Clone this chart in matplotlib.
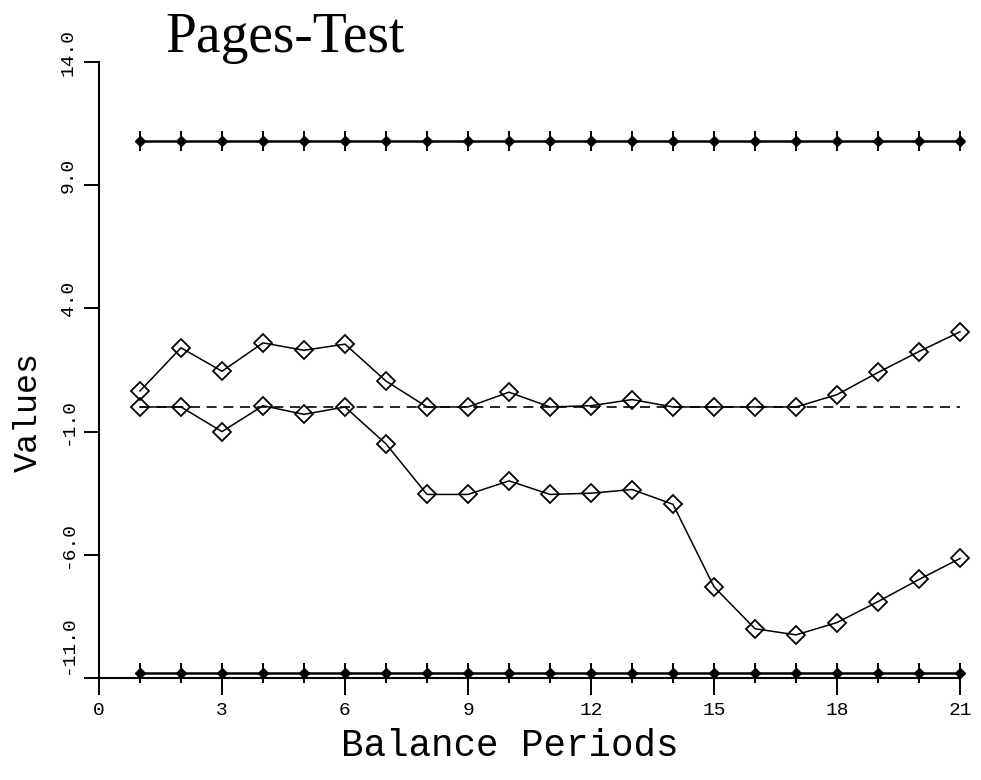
import matplotlib.pyplot as plt
from matplotlib.transforms import ScaledTranslation

# datos
periods = list(range(1, 22))
upper_limit = 10.8
lower_limit = -10.8
center_line = 0.0
series_a = [0.65, 2.4, 1.45, 2.6, 2.3, 2.55, 1.05, 0.0, 0.0, 0.6, 0.0,
            0.05, 0.3, 0.0, 0.0, 0.0, 0.0, 0.5, 1.4, 2.25, 3.05]
series_b = [0.0, 0.0, -1.0, 0.05, -0.3, 0.0, -1.5, -3.55, -3.55, -3.0, -3.55,
            -3.5, -3.35, -3.95, -7.3, -9.0, -9.25, -8.75, -7.9, -7.0, -6.15]
xticks = [0, 3, 6, 9, 12, 15, 18, 21]
yticks = [-11, -6, -1, 4, 9, 14]
ytick_labels = ['-11.0', '-6.0', '-1.0', '4.0', '9.0', '14.0']

mono = 'Liberation Mono'

fig = plt.figure(figsize=(9.81, 7.8), dpi=100)
ax = fig.add_axes([99 / 981, 102 / 780, 861 / 981, 616 / 780])

# lineas de control con marcador relleno y barra vertical
for level in (upper_limit, lower_limit):
    vals = [level] * len(periods)
    ax.plot(periods, vals, color='black', lw=1.8, marker='D', ms=5,
            mfc='black', mec='black', clip_on=False, zorder=3)
    ax.plot(periods, vals, ls='none', marker='|', ms=15, mew=1.4,
            color='black', clip_on=False, zorder=3)

# linea central discontinua
ax.plot(periods, [center_line] * len(periods), color='black', lw=1.2,
        ls=(0, (6, 4)), zorder=2)

# series con rombos abiertos
for s in (series_a, series_b):
    ax.plot(periods, s, color='black', lw=1.1, marker='D', ms=9,
            mfc='none', mec='black', mew=1.3, clip_on=False, zorder=4)

ax.set_xlim(0, 21)
ax.set_ylim(-11, 14)

for side in ('top', 'right'):
    ax.spines[side].set_visible(False)
for side in ('left', 'bottom'):
    ax.spines[side].set_linewidth(1.5)

ax.set_xticks(xticks)
ax.set_xticklabels([str(v) for v in xticks], fontfamily=mono, fontsize=14)
ax.set_yticks(yticks)
ax.set_yticklabels(ytick_labels, fontfamily=mono, fontsize=14,
                   rotation=90, va='center')
ax.tick_params(axis='x', direction='out', length=12, width=1.4, pad=5)
ax.tick_params(axis='y', direction='out', length=11, width=1.4, pad=5)

# etiquetas del eje y un poco por encima de la marca
for lab in ax.get_yticklabels():
    dy = 0.33 if lab.get_text() == '-11.0' else 0.10
    lab.set_transform(lab.get_transform() +
                      ScaledTranslation(0, dy, fig.dpi_scale_trans))

ax.set_xlabel('Balance Periods', fontfamily=mono, fontsize=27, va='center')
ax.xaxis.set_label_coords((510 - 99) / 861, (678 - 746) / 616)
ax.set_ylabel('Values', fontfamily=mono, fontsize=24, va='center')
ax.yaxis.set_label_coords((28 - 99) / 861, (678 - 412) / 616)

fig.text(165 / 981, 1 - 52 / 780, 'Pages-Test', fontfamily='Liberation Serif',
         fontsize=40, ha='left', va='baseline')

fig.savefig('out.png', dpi=100)
